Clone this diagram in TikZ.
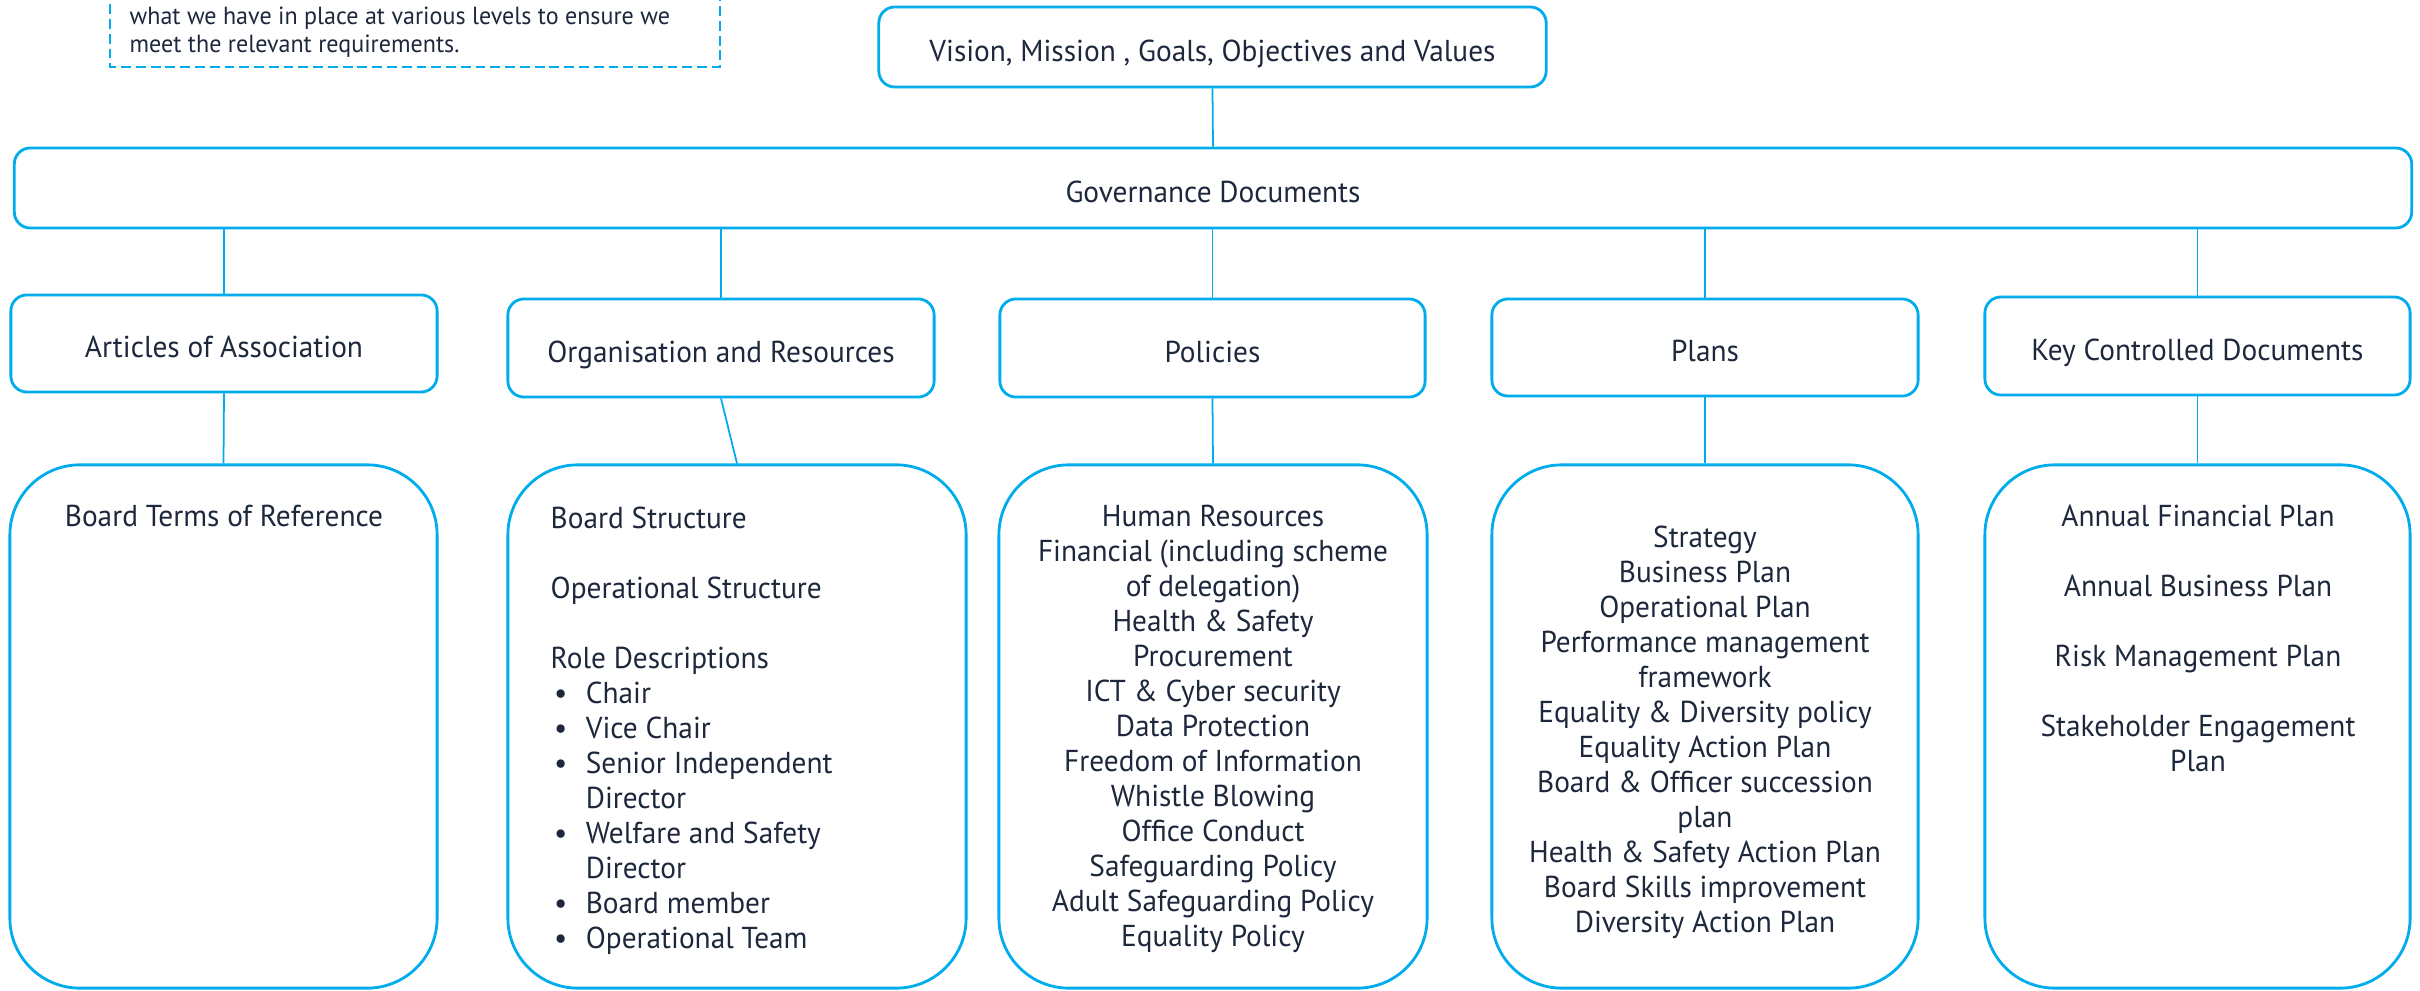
\documentclass[tikz,border=0pt]{standalone}
\usepackage{fontspec}
\setmainfont{PT Sans}[FakeStretch=0.97]
\usepackage{tikz}
\usetikzlibrary{calc}

\definecolor{govblue}{RGB}{0,172,236}
\definecolor{govtext}{RGB}{30,40,60}
\newcommand{\boxfont}{\fontsize{8.6}{9.96}\selectfont}
\newcommand{\notefont}{\fontsize{7.05}{7.97}\selectfont}
\newcommand{\bul}{\hspace*{1pt}\makebox[9pt][l]{\textbullet}}

\tikzset{
	headbox/.style={draw=govblue, line width=0.8pt, rounded corners=1.6mm, inner sep=0pt, text=govtext, font=\boxfont, text height=8pt, text depth=0pt},
	listbox/.style={draw=govblue, line width=0.8pt, rounded corners=7mm, inner sep=0pt},
	listtext/.style={inner sep=0pt, text=govtext, font=\boxfont},
	link/.style={draw=govblue, line width=0.5pt},
}

\begin{document}
\begin{tikzpicture}[x=0.01cm, y=-0.01cm]
			%%%%% FRAME %%%%%
			\useasboundingbox (0,0) rectangle (2420,991);
			\clip (0,0) rectangle (2420,991);
			
			% note box at the top left
			\draw[govblue, line width=0.6pt, dash pattern=on 2.8pt off 1.4pt] (110,-40) rectangle (720,67);
			\node[inner sep=0pt, text=govtext, font=\notefont, align=left, anchor=north west] (notetext) at (129,6)
				{what we have in place at various levels to ensure we\\meet the relevant requirements.};
			
			%%%%% TOP LEVEL %%%%%
			\node[headbox, minimum width=6.67cm, minimum height=0.8cm] (vision) at (1212.5,47) {Vision, Mission , Goals, Objectives and Values};
			\node[headbox, minimum width=23.96cm, minimum height=0.8cm] (gov) at (1213,188) {Governance Documents};
			
			%%%%% SECOND LEVEL %%%%%
			\node[headbox, minimum width=4.26cm, minimum height=0.97cm] (art) at (224,343.5) {Articles of Association};
			\node[headbox, minimum width=4.26cm, minimum height=0.98cm] (org) at (721,348) {Organisation and Resources};
			\node[headbox, minimum width=4.25cm, minimum height=0.98cm] (pol) at (1212.5,348) {Policies};
			\node[headbox, minimum width=4.26cm, minimum height=0.97cm] (plan) at (1705,347.5) {Plans};
			\node[headbox, minimum width=4.25cm, minimum height=0.98cm] (kcd) at (2197.5,346) {Key Controlled Documents};
			
			%%%%% DOCUMENT LISTS %%%%%
			\node[listbox, minimum width=4.27cm, minimum height=5.23cm] (tor) at (223.5,726.5) {};
			\node[listbox, minimum width=4.58cm, minimum height=5.23cm] (orgdocs) at (737,726.5) {};
			\node[listbox, minimum width=4.28cm, minimum height=5.23cm] (poldocs) at (1213,726.5) {};
			\node[listbox, minimum width=4.26cm, minimum height=5.23cm] (plandocs) at (1705,726.5) {};
			\node[listbox, minimum width=4.25cm, minimum height=5.23cm] (kcddocs) at (2197.5,726.5) {};
			
			\node[listtext, anchor=north] (tortext) at (224,504) {Board Terms of Reference};
			
			\node[listtext, align=left, anchor=north west] (orgtext) at (550,506) {%
				Board Structure\\[9.96pt]
				Operational Structure\\[9.96pt]
				Role Descriptions\\
				\bul Chair\\
				\bul Vice Chair\\
				\bul Senior Independent\\
				\hspace*{1pt}\hspace{9pt}Director\\
				\bul Welfare and Safety\\
				\hspace*{1pt}\hspace{9pt}Director\\
				\bul Board member\\
				\bul Operational Team};
			
			\node[listtext, align=center, anchor=north] (poltext) at (1213,504) {%
				Human Resources\\
				Financial (including scheme\\
				of delegation)\\
				Health \& Safety\\
				Procurement\\
				ICT \& Cyber security\\
				Data Protection\\
				Freedom of Information\\
				Whistle Blowing\\
				Office Conduct\\
				Safeguarding Policy\\
				Adult Safeguarding Policy\\
				Equality Policy};
			
			\node[listtext, align=center, anchor=north] (plantext) at (1705,525) {%
				Strategy\\
				Business Plan\\
				Operational Plan\\
				Performance management\\
				framework\\
				Equality \& Diversity policy\\
				Equality Action Plan\\
				Board \& Officer succession\\
				plan\\
				Health \& Safety Action Plan\\
				Board Skills improvement\\
				Diversity Action Plan};
			
			\node[listtext, align=center, anchor=north] (kcdtext) at (2198,504) {%
				Annual Financial Plan\\[9.96pt]
				Annual Business Plan\\[9.96pt]
				Risk Management Plan\\[9.96pt]
				Stakeholder Engagement\\
				Plan};
			
			%%%%% CONNECTORS %%%%%
			\draw[link] (vision.south) -- (gov.north);
			\draw[link] (gov.south -| art.north) -- (art.north);
			\draw[link] (gov.south -| org.north) -- (org.north);
			\draw[link] (gov.south -| pol.north) -- (pol.north);
			\draw[link] (gov.south -| plan.north) -- (plan.north);
			\draw[link] (gov.south -| kcd.north) -- (kcd.north);
			
			\draw[link] (art.south) -- (tor.north);
			\draw[link] (org.south) -- (orgdocs.north);
			\draw[link] (pol.south) -- (poldocs.north);
			\draw[link] (plan.south) -- (plandocs.north);
			\draw[link] (kcd.south) -- (kcddocs.north);
\end{tikzpicture}
\end{document}
